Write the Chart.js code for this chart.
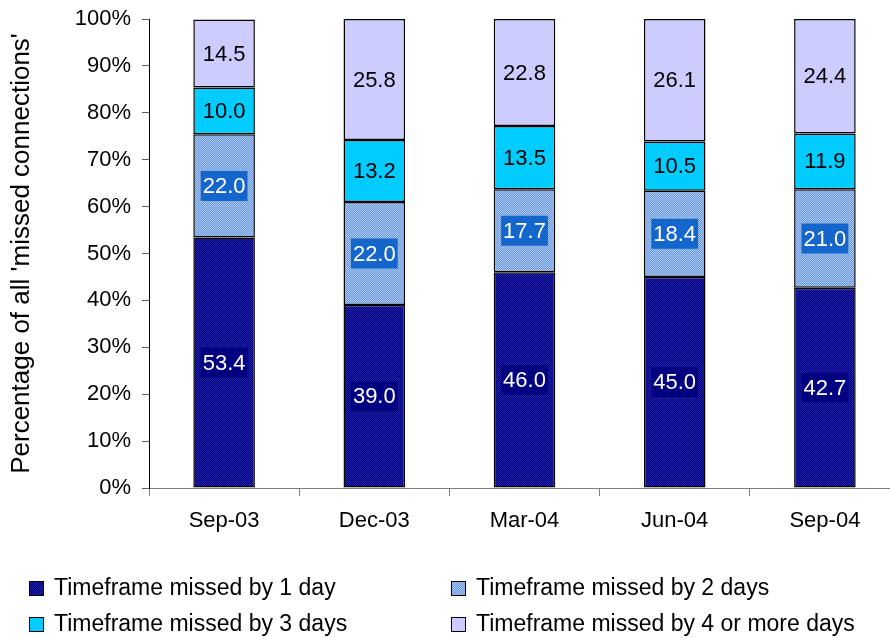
<!DOCTYPE html>
<html>
<head>
<meta charset="utf-8">
<script src="https://cdn.jsdelivr.net/npm/chart.js@4"></script>
<style>
  html, body { margin: 0; padding: 0; background: #fff; overflow: hidden; }
</style>
</head>
<body>
<canvas id="myGraph" width="900" height="638"></canvas>
<script>
const categories = ['Sep-03', 'Dec-03', 'Mar-04', 'Jun-04', 'Sep-04']
const missed1Day = [53.4, 39.0, 46.0, 45.0, 42.7]
const missed2Days = [22.0, 22.0, 17.7, 18.4, 21.0]
const missed3Days = [10.0, 13.2, 13.5, 10.5, 11.9]
const missed4Plus = [14.5, 25.8, 22.8, 26.1, 24.4]
const yTicks = [0, 10, 20, 30, 40, 50, 60, 70, 80, 90, 100]

const FONT = "'Liberation Sans', Arial, sans-serif"

// small 2x2 checker to imitate the hatched fills
const makePattern = (base, dot) => {
  const p = document.createElement('canvas')
  p.width = 2
  p.height = 2
  const g = p.getContext('2d')
  g.fillStyle = base
  g.fillRect(0, 0, 2, 2)
  g.fillStyle = dot
  g.fillRect(0, 0, 1, 1)
  g.fillRect(1, 1, 1, 1)
  return g.createPattern(p, 'repeat')
}

const labelBoxes = ['#000080', '#1466cc', null, null]
const labelColors = ['#fff', '#fff', '#000', '#000']

const barLabels = {
  id: 'barLabels',
  afterDatasetsDraw(chart) {
    const ctx = chart.ctx
    ctx.save()
    ctx.font = '22px ' + FONT
    ctx.textAlign = 'center'
    ctx.textBaseline = 'middle'
    chart.data.datasets.forEach((ds, i) => {
      chart.getDatasetMeta(i).data.forEach((bar, j) => {
        const text = ds.data[j].toFixed(1)
        const x = bar.x
        const y = (bar.y + bar.base) / 2
        if (labelBoxes[i]) {
          const w = ctx.measureText(text).width + 4
          ctx.fillStyle = labelBoxes[i]
          ctx.fillRect(x - w / 2, y - 15, w, 30)
        }
        ctx.fillStyle = labelColors[i]
        ctx.fillText(text, x, y + 1)
      })
    })
    ctx.restore()
  },
}

// two-column legend under the plot
const gridLegend = {
  id: 'gridLegend',
  afterDraw(chart) {
    const ctx = chart.ctx
    const cols = [29, 451]
    const rows = [588, 624]
    ctx.save()
    ctx.font = '23px ' + FONT
    ctx.textBaseline = 'middle'
    chart.data.datasets.forEach((ds, i) => {
      const x = cols[i % 2]
      const y = rows[Math.floor(i / 2)]
      ctx.fillStyle = ds.backgroundColor
      ctx.fillRect(x, y - 7, 15, 15)
      ctx.strokeStyle = '#000'
      ctx.lineWidth = 1
      ctx.strokeRect(x + 0.5, y - 6.5, 14, 14)
      ctx.fillStyle = '#000'
      ctx.fillText(ds.label, x + 25, y + 1)
    })
    ctx.restore()
  },
}

const ctx = document.getElementById('myGraph').getContext('2d')

new Chart(ctx, {
  type: 'bar',
  data: {
    labels: categories,
    datasets: [
      {
        label: 'Timeframe missed by 1 day',
        data: missed1Day,
        backgroundColor: makePattern('#00007a', '#2222ac'),
      },
      {
        label: 'Timeframe missed by 2 days',
        data: missed2Days,
        backgroundColor: makePattern('#6c9ade', '#a8c6f0'),
      },
      {
        label: 'Timeframe missed by 3 days',
        data: missed3Days,
        backgroundColor: '#00ccff',
      },
      {
        label: 'Timeframe missed by 4 or more days',
        data: missed4Plus,
        backgroundColor: '#ccccff',
      },
    ].map((ds) => ({
      ...ds,
      borderColor: '#000',
      borderWidth: 1.5,
      borderSkipped: false,
      barPercentage: 0.41,
      categoryPercentage: 1,
    })),
  },
  options: {
    responsive: false,
    animation: false,
    devicePixelRatio: 1,
    layout: { padding: { top: 19, right: 0, bottom: 0, left: 0 } },
    plugins: {
      legend: { display: false },
      tooltip: { enabled: false },
    },
    scales: {
      x: {
        stacked: true,
        afterFit: (scale) => {
          scale.height = 150
        },
        grid: {
          offset: true,
          drawOnChartArea: false,
          tickLength: 8,
          color: '#808080',
        },
        border: { color: '#808080', width: 1 },
        ticks: {
          color: '#000',
          padding: 12,
          font: { family: FONT, size: 22 },
        },
      },
      y: {
        stacked: true,
        min: 0,
        max: 100,
        afterFit: (scale) => {
          scale.width = 149
          scale.paddingTop = 0
          scale.paddingBottom = 0
        },
        afterBuildTicks: (scale) => {
          scale.ticks = yTicks.map((v) => ({ value: v }))
        },
        grid: {
          drawOnChartArea: false,
          tickLength: 7,
          color: '#606060',
        },
        border: { color: '#000', width: 1 },
        ticks: {
          color: '#000',
          padding: 11,
          font: { family: FONT, size: 22 },
          callback: (v) => v + '%',
        },
        title: {
          display: true,
          text: "Percentage of all 'missed connections'",
          color: '#000',
          padding: { top: 6, bottom: 0 },
          font: { family: FONT, size: 26 },
        },
      },
    },
  },
  plugins: [barLabels, gridLegend],
})
</script>
</body>
</html>
